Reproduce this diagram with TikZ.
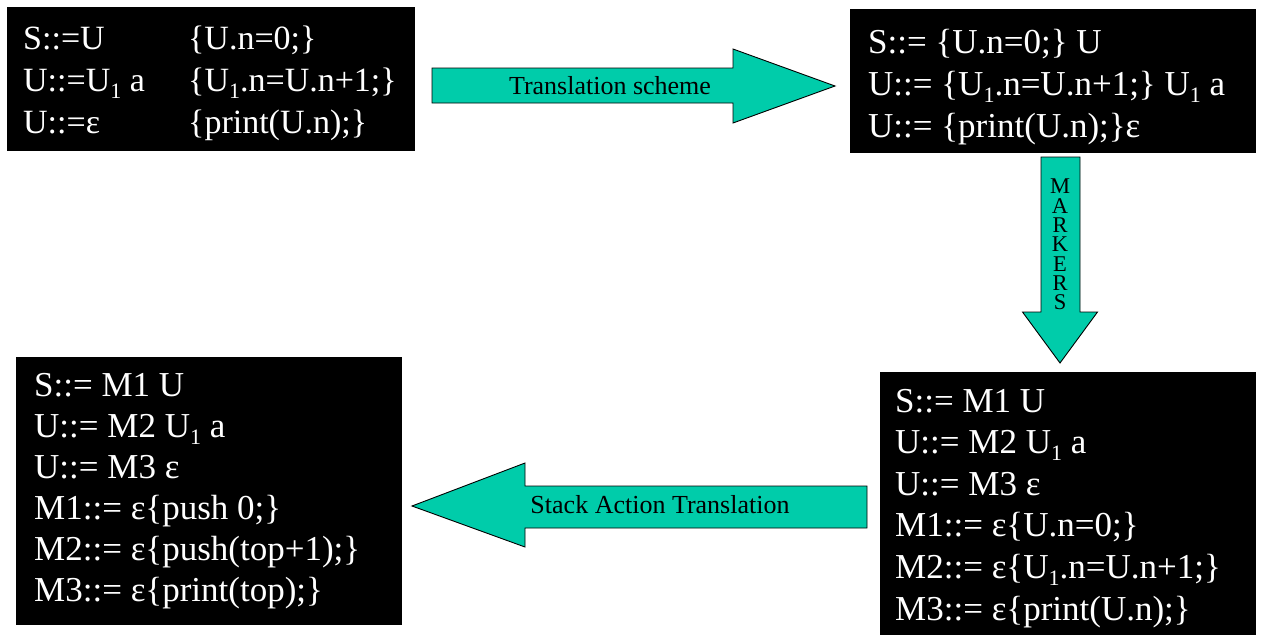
\documentclass[tikz,border=0pt]{standalone}
\usepackage{fontspec}
\setmainfont{Liberation Serif}
\usetikzlibrary{positioning}
\definecolor{arrowteal}{RGB}{0,204,170}
\newcommand{\lowsub}[1]{\raisebox{-7pt}{\fontsize{22}{22}\selectfont #1}}

\begin{document}
\begin{tikzpicture}[
    x=1pt, y=-1pt,
    panel/.style={anchor=north west, fill=black, inner sep=0pt, outer sep=0pt},
    rules/.style={anchor=base west, text=white, inner sep=0pt,
                  font=\fontsize{35}{41}\selectfont},
    blockarr/.style={fill=arrowteal, draw=black, line width=0.9pt, line join=miter},
    arrlabel/.style={anchor=base, inner sep=0pt, font=\fontsize{26}{30}\selectfont}
  ]
    \useasboundingbox (0,0) rectangle (1268,635);
    % black panels
    \node[panel, minimum width=408pt, minimum height=144pt] (g1) at (7,7) {};
    \node[panel, minimum width=406pt, minimum height=144pt] (g2) at (850,9) {};
    \node[panel, minimum width=376pt, minimum height=263pt] (g3) at (880,372) {};
    \node[panel, minimum width=386pt, minimum height=268pt] (g4) at (16,357) {};

    % grammar texts
    \node[rules, font=\fontsize{34}{42}\selectfont] (t1) at (23,49) {\begin{tabular}[t]{@{}p{165pt}@{}l@{}}
      S::=U & \{U.n=0;\}\\
      U::=U\lowsub{1} a & \{U\lowsub{1}.n=U.n+1;\}\\
      U::=ε & \{print(U.n);\}
    \end{tabular}};
    \node[rules, font=\fontsize{35}{42}\selectfont] (t2) at (868,53) {\begin{tabular}[t]{@{}l@{}}
      S::= \{U.n=0;\} U\\
      U::= \{U\lowsub{1}.n=U.n+1;\} U\lowsub{1} a\\
      U::= \{print(U.n);\}ε
    \end{tabular}};
    \node[rules, font=\fontsize{35}{41.6}\selectfont] (t3) at (895,412) {\begin{tabular}[t]{@{}l@{}}
      S::= M1 U\\
      U::= M2 U\lowsub{1} a\\
      U::= M3 ε\\
      M1::= ε\{U.n=0;\}\\
      M2::= ε\{U\lowsub{1}.n=U.n+1;\}\\
      M3::= ε\{print(U.n);\}
    \end{tabular}};
    \node[rules] (t4) at (34,396) {\begin{tabular}[t]{@{}l@{}}
      S::= M1 U\\
      U::= M2 U\lowsub{1} a\\
      U::= M3 ε\\
      M1::= ε\{push 0;\}\\
      M2::= ε\{push(top+1);\}\\
      M3::= ε\{print(top);\}
    \end{tabular}};

    % block arrows
    \draw[blockarr] (432,68) -- (733,68) -- (733,49) -- (835,86)
        -- (733,123) -- (733,103) -- (432,103) -- cycle;
    \node[arrlabel] (a1) at (610,94) {Translation scheme};

    \draw[blockarr] (1041,157) -- (1080,157) -- (1080,312) -- (1097.5,312)
        -- (1060,363) -- (1022.5,312) -- (1041,312) -- cycle;
    \node[anchor=north, inner sep=0pt, align=center,
          font=\fontsize{22.5}{19.3}\selectfont] (a2) at (1060,179)
          {M\\A\\R\\K\\E\\R\\S};

    \draw[blockarr] (867,486) -- (525,486) -- (525,463) -- (412,506)
        -- (525,547) -- (525,528) -- (867,528) -- cycle;
    \node[arrlabel] (a3) at (660,513) {Stack Action Translation};
\end{tikzpicture}
\end{document}
